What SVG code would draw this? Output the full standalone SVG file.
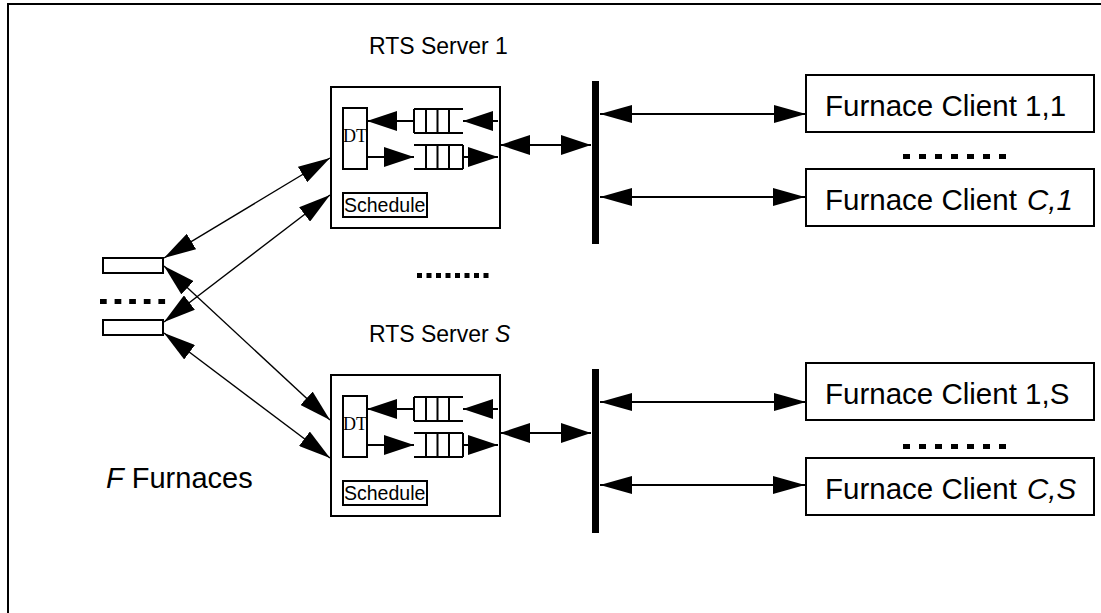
<svg xmlns="http://www.w3.org/2000/svg" width="1101" height="613" viewBox="0 0 1101 613">
<style>
  .box { fill: #fff; stroke: #000; stroke-width: 2; }
  .ln { fill: none; stroke: #000; stroke-width: 2; }
  .thin { fill: none; stroke: #000; stroke-width: 1.4; }
  .sans { font-family: "Liberation Sans", Arial, sans-serif; fill: #000; }
  .serif { font-family: "Liberation Serif", "Times New Roman", serif; fill: #000; }
  .it { font-style: italic; }
  .dots { fill: none; stroke: #000; stroke-width: 5; }
</style>
<defs>
  <marker id="ah" markerUnits="userSpaceOnUse" markerWidth="32" markerHeight="18" refX="32" refY="9" orient="auto-start-reverse">
    <path d="M0,0 L32,9 L0,18 z" fill="#000"/>
  </marker>
  <marker id="ahs" markerUnits="userSpaceOnUse" markerWidth="30" markerHeight="20" refX="30" refY="10" orient="auto-start-reverse">
    <path d="M0,0 L30,10 L0,20 z" fill="#000"/>
  </marker>
  <g id="serverInner">
    <rect class="box" x="331" y="87" width="169" height="141"/>
    <rect class="box" x="343" y="108" width="24" height="61"/>
    <text class="serif" x="343" y="142" font-size="18" fill="#333">DT</text>
    <path class="ln" d="M414,109 H463 M414,133 H463 M414,109 V133 M426,109 V133 M437.5,109 V133 M449,109 V133"/>
    <path class="ln" d="M414,145 H463 M414,169 H463 M426,145 V169 M437.5,145 V169 M449,145 V169 M463,145 V169"/>
    <line class="ln" x1="498" y1="121" x2="463" y2="121" marker-end="url(#ahs)"/>
    <line class="ln" x1="414" y1="121" x2="367" y2="121" marker-end="url(#ahs)"/>
    <line class="ln" x1="367" y1="157" x2="414" y2="157" marker-end="url(#ahs)"/>
    <line class="ln" x1="463" y1="157" x2="498" y2="157" marker-end="url(#ahs)"/>
    <rect class="box" x="343" y="193" width="84" height="24"/>
    <text class="sans" x="344" y="212" font-size="19.5">Schedule</text>
  </g>
</defs>

<path class="ln" d="M8,613 V4 H1101" stroke-width="2.5"/>

<g id="server1">
  <text class="sans" x="369" y="54" font-size="23">RTS Server 1</text>
  <use href="#serverInner"/>
</g>

<g id="serverS">
  <text class="sans" x="369" y="342" font-size="23">RTS Server <tspan class="it">S</tspan></text>
  <use href="#serverInner" transform="translate(0,288)"/>
</g>

<g id="bus1">
  <rect x="592" y="81" width="7" height="163" fill="#000"/>
</g>
<g id="busS">
  <rect x="592" y="369" width="7" height="164" fill="#000"/>
</g>

<g id="client11">
  <rect class="box" x="806" y="75" width="288" height="57"/>
  <text class="sans" x="825" y="116" font-size="29.5">Furnace Client 1,1</text>
</g>
<g id="clientC1">
  <rect class="box" x="806" y="169" width="288" height="57"/>
  <text class="sans" x="825" y="210" font-size="29.5">Furnace Client<tspan class="it" x="1027">C,1</tspan></text>
</g>
<g id="client1S">
  <rect class="box" x="806" y="363" width="288" height="57"/>
  <text class="sans" x="825" y="404" font-size="29.5">Furnace Client 1,S</text>
</g>
<g id="clientCS">
  <rect class="box" x="806" y="458" width="288" height="57"/>
  <text class="sans" x="825" y="499" font-size="29.5">Furnace Client<tspan class="it" x="1027">C,S</tspan></text>
</g>

<g id="furnaces">
  <rect class="box" x="103" y="258" width="60" height="15"/>
  <rect class="box" x="103" y="320" width="60" height="15"/>
  <line class="dots" x1="100" y1="301.5" x2="166" y2="301.5" stroke-dasharray="6.7 7.9"/>
  <text class="sans" x="106" y="488" font-size="29"><tspan class="it">F</tspan> Furnaces</text>
</g>

<g id="ellipses">
  <line class="dots" x1="417" y1="275.5" x2="489" y2="275.5" stroke-dasharray="5 4.5"/>
  <line class="dots" x1="903" y1="156.5" x2="1006" y2="156.5" stroke-dasharray="7 9"/>
  <line class="dots" x1="903" y1="446.5" x2="1006" y2="446.5" stroke-dasharray="7 9"/>
</g>

<g id="connectors">
  <line class="thin" x1="164" y1="258" x2="330" y2="158" marker-start="url(#ah)" marker-end="url(#ah)"/>
  <line class="thin" x1="164" y1="322" x2="330" y2="195" marker-start="url(#ah)" marker-end="url(#ah)"/>
  <line class="thin" x1="164" y1="266" x2="330" y2="420" marker-start="url(#ah)" marker-end="url(#ah)"/>
  <line class="thin" x1="164" y1="333" x2="330" y2="458" marker-start="url(#ah)" marker-end="url(#ah)"/>
  <line class="ln" x1="500" y1="145" x2="591" y2="145" marker-start="url(#ahs)" marker-end="url(#ahs)"/>
  <line class="ln" x1="500" y1="433" x2="591" y2="433" marker-start="url(#ahs)" marker-end="url(#ahs)"/>
  <line class="ln" x1="600" y1="114" x2="806" y2="114" marker-start="url(#ah)" marker-end="url(#ah)"/>
  <line class="ln" x1="600" y1="197" x2="805" y2="197" marker-start="url(#ah)" marker-end="url(#ah)"/>
  <line class="ln" x1="600" y1="402" x2="806" y2="402" marker-start="url(#ah)" marker-end="url(#ah)"/>
  <line class="ln" x1="600" y1="485" x2="805" y2="485" marker-start="url(#ah)" marker-end="url(#ah)"/>
</g>
</svg>
